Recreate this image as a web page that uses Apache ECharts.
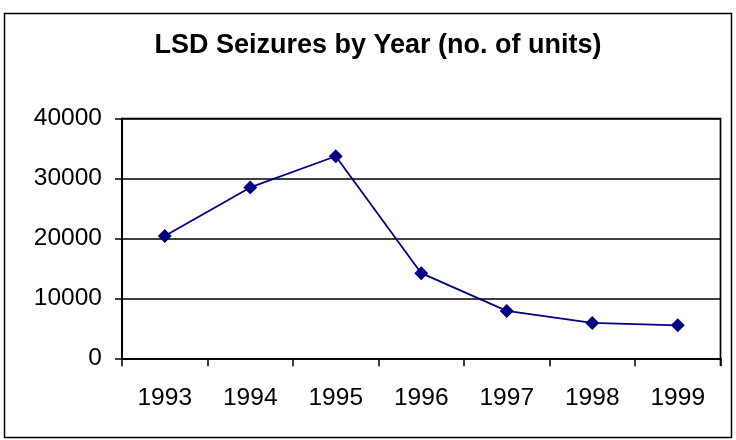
<!DOCTYPE html>
<html>
<head>
<meta charset="utf-8">
<script src="https://cdn.jsdelivr.net/npm/echarts@6/dist/echarts.min.js"></script>
<style>
  html, body { margin: 0; padding: 0; background: #fff; }
  #chart { width: 736px; height: 440px; }
</style>
</head>
<body>
<div id="chart"></div>
<script>
// LSD seizures per year, number of units
const years = ['1993', '1994', '1995', '1996', '1997', '1998', '1999'];
const seizures = [20400, 28500, 33700, 14200, 7900, 5900, 5500];
const yTicks = { min: 0, max: 40000, interval: 10000 };

const chart = echarts.init(document.getElementById('chart'), null, { renderer: 'canvas' });

const font = '"Liberation Sans", Arial, sans-serif';

chart.setOption({
  animation: false,
  backgroundColor: '#fff',
  title: {
    text: 'LSD Seizures by Year (no. of units)',
    left: 373,
    top: 27,
    textAlign: 'center',
    textStyle: { fontFamily: font, fontSize: 27, fontWeight: 'bold', color: '#000' }
  },
  graphic: [{
    type: 'rect',
    shape: { x: 4.5, y: 13.5, width: 727, height: 424 },
    style: { fill: 'none', stroke: '#000', lineWidth: 1.5 },
    silent: true
  }, {
    // top and right edges of the plot area
    type: 'polyline',
    shape: { points: [[122, 118.5], [720.5, 118.5], [720.5, 366]] },
    style: { fill: 'none', stroke: '#000', lineWidth: 1.7 },
    silent: true
  }],
  grid: { left: 122, right: 15.5, top: 118.5, bottom: 81.7, containLabel: false },
  xAxis: {
    type: 'category',
    data: years,
    boundaryGap: true,
    axisLine: { show: true, lineStyle: { color: '#000', width: 2 } },
    axisTick: { show: true, inside: false, length: 8, alignWithLabel: false, lineStyle: { color: '#000', width: 1.5 } },
    axisLabel: { fontFamily: font, fontSize: 24.5, color: '#000', margin: 27 },
    splitLine: { show: false }
  },
  yAxis: {
    type: 'value',
    min: yTicks.min,
    max: yTicks.max,
    interval: yTicks.interval,
    axisLine: { show: true, lineStyle: { color: '#000', width: 2 } },
    axisTick: { show: true, inside: false, length: 7, lineStyle: { color: '#000', width: 1.5 } },
    axisLabel: {
      fontFamily: font, fontSize: 24.5, color: '#000', margin: 20,
      formatter: (v) => String(v)
    },
    splitLine: { show: true, lineStyle: { color: '#000', width: 1.5 } }
  },
  series: [{
    type: 'line',
    data: seizures,
    symbol: 'diamond',
    symbolSize: 14,
    lineStyle: { color: '#000080', width: 1.8 },
    itemStyle: { color: '#000080' },
    z: 5
  }]
});
</script>
</body>
</html>
